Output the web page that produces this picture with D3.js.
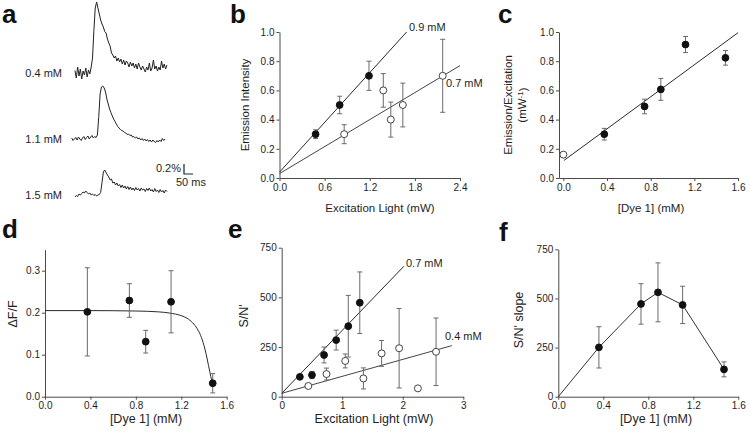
<!DOCTYPE html>
<html><head><meta charset="utf-8">
<script src="https://cdn.jsdelivr.net/npm/d3@7"></script>
<style>
html,body{margin:0;padding:0;background:#fff;}
svg{display:block;font-family:"Liberation Sans",Arial,sans-serif;}
</style></head>
<body><svg id="chart" width="750" height="435"></svg>
<script>
// ---------- DATA ----------
// panel a: fluorescence traces (% dF/F), sampled every traceDt ms
const traceLabels = ["0.4 mM", "1.1 mM", "1.5 mM"];
const traceDt = 7.5;
const traceStart = [18, 0, 18];
const trace04 = [0.05,-0.10,0.12,-0.06,0.08,-0.12,0.04,-0.04,0.10,-0.08,0.06,-0.02,0.12,
  0.30,0.85,1.30,1.42,1.30,1.18,1.06,0.98,0.92,0.83,0.80,0.68,0.60,0.54,0.40,0.36,0.30,0.34,
  0.24,0.30,0.22,0.28,0.18,0.26,0.16,0.24,0.20,0.12,0.22,0.14,0.20,0.10,0.18,0.08,0.20,0.12,
  0.06,0.14,0.08,0.02,0.12,0.06,0.20,0.04,0.10,0.26,0.08,0.14,0.04,0.12,0.06,0.24,0.10,0.18,0.08,0.16];
const trace11 = [0.02,-0.03,0.00,0.03,-0.02,0.04,0.00,-0.03,0.02,0.05,-0.01,0.03,0.06,0.00,0.04,0.07,0.02,0.05,0.03,
  0.08,0.45,0.90,1.04,1.06,1.02,0.94,0.80,0.70,0.60,0.53,0.46,0.40,0.35,0.30,0.25,0.22,0.19,0.17,0.16,
  0.13,0.12,0.09,0.10,0.07,0.08,0.04,0.05,0.02,0.04,0.00,0.02,-0.02,0.01,-0.03,0.00,-0.04,-0.01,-0.05,
  -0.02,-0.06,-0.02,-0.05,-0.07,-0.03,-0.06,-0.02,-0.05,0.01,-0.03,0.00];
const trace15 = [-0.04,-0.01,-0.03,0.02,0.00,0.03,0.06,0.04,0.08,0.05,0.02,0.04,0.00,0.02,-0.01,0.01,-0.02,0.00,0.01,
  0.05,0.25,0.46,0.50,0.45,0.40,0.36,0.30,0.32,0.24,0.26,0.20,0.24,0.18,0.21,0.15,0.20,0.14,0.18,0.12,
  0.17,0.11,0.16,0.10,0.14,0.09,0.15,0.10,0.13,0.08,0.14,0.10,0.12,0.07,0.13,0.09,0.14,0.08,0.11,0.06,
  0.13,0.07,0.10,0.05,0.11,0.06,0.09,0.04,0.10,0.07];
const scaleBarPct = 0.2, scaleBarMs = 50;

// panel b
const bFilledX = [0.48, 0.80, 1.19], bFilledY = [0.30, 0.50, 0.70], bFilledErr = [0.03, 0.06, 0.10];
const bOpenX = [0.86, 1.38, 1.48, 1.64, 2.17], bOpenY = [0.30, 0.60, 0.40, 0.50, 0.70];
const bOpenErr = [0.065, 0.115, 0.12, 0.15, 0.25];
const bFitHighX = [0, 1.69], bFitHighY = [0.04, 1.0];
const bFitLowX = [0, 2.4], bFitLowY = [0.03, 0.77];
const bLineLabels = ["0.9 mM", "0.7 mM"];
const bXTicks = [0, 0.6, 1.2, 1.8, 2.4], bYTicks = [0, 0.2, 0.4, 0.6, 0.8, 1.0];

// panel c
const cX = [0.375, 0.744, 0.893, 1.119, 1.485], cY = [0.30, 0.49, 0.607, 0.914, 0.823];
const cErr = [0.04, 0.05, 0.075, 0.055, 0.05];
const cOpenX = [0], cOpenY = [0.16];
const cFitX = [0.005, 1.6], cFitY = [0.12, 0.995];
const cXTicks = [0, 0.4, 0.8, 1.2, 1.6], cYTicks = [0, 0.2, 0.4, 0.6, 0.8, 1.0];

// panel d
const dX = [0.373, 0.743, 0.887, 1.11, 1.477], dY = [0.202, 0.229, 0.131, 0.226, 0.032];
const dErr = [0.105, 0.04, 0.027, 0.074, 0.023];
const dCurveX = [0, 0.4, 0.8, 1.0, 1.1, 1.2, 1.25, 1.3, 1.34, 1.37, 1.40, 1.42, 1.44, 1.46, 1.48];
const dCurveY = [0.205, 0.205, 0.204, 0.202, 0.199, 0.193, 0.187, 0.176, 0.162, 0.146, 0.122, 0.100, 0.074, 0.048, 0.025];
const dXTicks = [0, 0.4, 0.8, 1.2, 1.6], dYTicks = [0, 0.1, 0.2, 0.3];

// panel e
const eFilledX = [0.30, 0.50, 0.70, 0.90, 1.10, 1.29], eFilledY = [100, 109, 210, 285, 355, 473];
const eFilledErr = [8, 18, 40, 50, 155, 155];
const eOpenX = [0.44, 0.74, 1.05, 1.35, 1.65, 1.94, 2.25, 2.55];
const eOpenY = [54, 114, 180, 92, 218, 244, 42, 226];
const eOpenErr = [0, 30, 35, 53, 65, 200, 0, 170];
const eFitHighX = [0, 2.02], eFitHighY = [17, 657];
const eFitLowX = [0, 2.81], eFitLowY = [17, 257];
const eLineLabels = ["0.7 mM", "0.4 mM"];
const eXTicks = [0, 1, 2, 3], eYTicks = [0, 250, 500, 750];

// panel f
const fX = [0, 0.361, 0.735, 0.886, 1.105, 1.473], fY = [0, 251, 472, 531, 467, 139];
const fErr = [0, 105, 103, 150, 95, 38];
const fXTicks = [0, 0.4, 0.8, 1.2, 1.6], fYTicks = [0, 250, 500, 750];

// ---------- DRAW ----------
const svg = d3.select("#chart");
svg.append("rect").attr("width", 750).attr("height", 435).attr("fill", "#fff");

const INK = "#1e1e1e", AX = "#4a4a4a", ERR = "#6a6a6a";
const zip = (xs, ys) => xs.map((x, i) => [x, ys[i]]);

function axes(g, x, y, o) {
  const ax = g.append("g").attr("transform", `translate(0,${y.range()[0]})`)
    .call(d3.axisBottom(x).tickValues(o.xt).tickFormat(o.xf).tickSize(3).tickSizeOuter(0).tickPadding(2.5));
  const ay = g.append("g").attr("transform", `translate(${x.range()[0]},0)`)
    .call(d3.axisLeft(y).tickValues(o.yt).tickFormat(o.yf).tickSize(3).tickSizeOuter(0).tickPadding(2));
  [ax, ay].forEach(a => {
    a.selectAll("path,line").attr("stroke", AX).attr("stroke-width", 1);
    a.selectAll("text").attr("fill", INK).style("font-size", o.fs + "px");
  });
}
function fitLine(g, x, y, pts, color) {
  g.append("path").datum(pts).attr("fill", "none").attr("stroke", color || "#2a2a2a").attr("stroke-width", 1)
    .attr("d", d3.line().x(d => x(d[0])).y(d => y(d[1])));
}
function errBars(g, x, y, xs, ys, es) {
  xs.forEach((xv, i) => {
    if (!es[i]) return;
    const px = x(xv), y1 = y(ys[i] + es[i]), y2 = y(ys[i] - es[i]);
    g.append("line").attr("x1", px).attr("x2", px).attr("y1", y1).attr("y2", y2).attr("stroke", ERR).attr("stroke-width", 1);
    [y1, y2].forEach(yy => g.append("line").attr("x1", px - 2.5).attr("x2", px + 2.5).attr("y1", yy).attr("y2", yy)
      .attr("stroke", ERR).attr("stroke-width", 1));
  });
}
function markers(g, x, y, xs, ys, filled) {
  xs.forEach((xv, i) => {
    g.append("circle").attr("cx", x(xv)).attr("cy", y(ys[i])).attr("r", filled ? 3.4 : 3.5)
      .attr("fill", filled ? "#111" : "#fff").attr("stroke", filled ? "#111" : "#444").attr("stroke-width", 1);
  });
}
function ylabel(g, cx, cy, lines, fs) {
  const t = g.append("text").attr("transform", `translate(${cx},${cy}) rotate(-90)`)
    .attr("text-anchor", "middle").attr("fill", INK).style("font-size", fs + "px");
  lines.forEach((l, i) => {
    const ts = t.append("tspan").attr("x", 0).attr("dy", i === 0 ? (-(lines.length - 1) * 0.6 + 0.35) + "em" : "1.2em");
    if (Array.isArray(l)) {
      ts.text(l[0]);
      t.append("tspan").attr("dy", "-0.4em").style("font-size", (fs * 0.7) + "px").text(l[1]);
      t.append("tspan").attr("dy", "0.4em").text(l[2]);
    } else ts.text(l);
  });
}
function xlabel(g, cx, by, txt, fs) {
  g.append("text").attr("x", cx).attr("y", by).attr("text-anchor", "middle").attr("fill", INK)
    .style("font-size", fs + "px").text(txt);
}
function panelLetter(x, y, s) {
  svg.append("text").attr("x", x).attr("y", y).attr("fill", "#111").style("font-size", "26px")
    .style("font-weight", "bold").text(s);
}
const f1 = d3.format(".1f"), f0 = d3.format("d");

// ---- panel a ----
{
  const g = svg.append("g");
  const tx = d3.scaleLinear().domain([0, 520]).range([71.7, 71.7 + 520 * 0.1804]);
  const ty = d3.scaleLinear().domain([0, 1]).range([0, -50]);
  const base = [73, 139, 195];
  [trace04, trace11, trace15].forEach((tr, k) => {
    g.append("path").datum(tr).attr("fill", "none").attr("stroke", "#222").attr("stroke-width", 1)
      .attr("stroke-linejoin", "round")
      .attr("d", d3.line().x((d, i) => tx(traceStart[k] + i * traceDt)).y(d => base[k] + ty(d)));
    g.append("text").attr("x", 62).attr("y", base[k] + 4).attr("text-anchor", "end").attr("fill", INK)
      .style("font-size", "11px").text(traceLabels[k]);
  });
  // scale bar
  const sx = 184, sy = 174;
  const len = tx(scaleBarMs) - tx(0), hgt = -ty(scaleBarPct);
  g.append("path").attr("d", `M${sx},${sy - hgt}V${sy}H${sx + len}`).attr("fill", "none").attr("stroke", "#222").attr("stroke-width", 1.2);
  g.append("text").attr("x", sx - 3).attr("y", sy - 2).attr("text-anchor", "end").attr("fill", INK).style("font-size", "11px").text(scaleBarPct + "%");
  g.append("text").attr("x", 176).attr("y", 186).attr("fill", INK).style("font-size", "11px").text(scaleBarMs + " ms");
}

// ---- panel b ----
{
  const g = svg.append("g");
  const x = d3.scaleLinear().domain([0, 2.4]).range([279.5, 460]);
  const y = d3.scaleLinear().domain([0, 1]).range([178, 32]);
  axes(g, x, y, { xt: bXTicks, yt: bYTicks, xf: f1, yf: f1, fs: 10 });
  fitLine(g, x, y, zip(bFitHighX, bFitHighY));
  fitLine(g, x, y, zip(bFitLowX, bFitLowY), "#444");
  errBars(g, x, y, bFilledX, bFilledY, bFilledErr);
  errBars(g, x, y, bOpenX, bOpenY, bOpenErr);
  markers(g, x, y, bOpenX, bOpenY, false);
  markers(g, x, y, bFilledX, bFilledY, true);
  g.append("text").attr("x", 409).attr("y", 31).attr("fill", INK).style("font-size", "11px").text(bLineLabels[0]);
  g.append("text").attr("x", 446).attr("y", 87).attr("fill", INK).style("font-size", "11px").text(bLineLabels[1]);
  ylabel(g, 245, 105, ["Emission Intensity"], 11.5);
  xlabel(g, 380, 212, "Excitation Light (mW)", 11.5);
}

// ---- panel c ----
{
  const g = svg.append("g");
  const x = d3.scaleLinear().domain([-0.04, 1.6]).range([559, 738]);
  const y = d3.scaleLinear().domain([0, 1]).range([178, 32]);
  axes(g, x, y, { xt: cXTicks, yt: cYTicks, xf: f1, yf: f1, fs: 10 });
  fitLine(g, x, y, zip(cFitX, cFitY));
  errBars(g, x, y, cX, cY, cErr);
  markers(g, x, y, cOpenX, cOpenY, false);
  markers(g, x, y, cX, cY, true);
  ylabel(g, 515, 105, ["Emission/Excitation", ["(mW", "-1", ")"]], 11.5);
  xlabel(g, 651, 212, "[Dye 1] (mM)", 11.5);
}

// ---- panel d ----
{
  const g = svg.append("g");
  const x = d3.scaleLinear().domain([0, 1.6]).range([45, 226.7]);
  const y = d3.scaleLinear().domain([0, 0.35]).range([396.7, 249.7]);
  axes(g, x, y, { xt: dXTicks, yt: dYTicks, xf: f1, yf: f1, fs: 10 });
  g.append("path").datum(zip(dCurveX, dCurveY)).attr("fill", "none").attr("stroke", "#2a2a2a").attr("stroke-width", 1)
    .attr("d", d3.line().curve(d3.curveMonotoneX).x(d => x(d[0])).y(d => y(d[1])));
  errBars(g, x, y, dX, dY, dErr);
  markers(g, x, y, dX, dY, true);
  ylabel(g, 12.5, 314, ["\u0394F/F"], 12.5);
  xlabel(g, 146, 423, "[Dye 1] (mM)", 12.5);
}

// ---- panel e ----
{
  const g = svg.append("g");
  const x = d3.scaleLinear().domain([0, 3]).range([281.7, 463.3]);
  const y = d3.scaleLinear().domain([0, 750]).range([396.7, 247.7]);
  axes(g, x, y, { xt: eXTicks, yt: eYTicks, xf: f0, yf: f0, fs: 10 });
  fitLine(g, x, y, zip(eFitHighX, eFitHighY));
  fitLine(g, x, y, zip(eFitLowX, eFitLowY), "#444");
  errBars(g, x, y, eFilledX, eFilledY, eFilledErr);
  errBars(g, x, y, eOpenX, eOpenY, eOpenErr);
  markers(g, x, y, eOpenX, eOpenY, false);
  markers(g, x, y, eFilledX, eFilledY, true);
  g.append("text").attr("x", 406).attr("y", 267).attr("fill", INK).style("font-size", "11px").text(eLineLabels[0]);
  g.append("text").attr("x", 445).attr("y", 340).attr("fill", INK).style("font-size", "11px").text(eLineLabels[1]);
  ylabel(g, 244, 316, ["S/N'"], 12.5);
  xlabel(g, 374, 423, "Excitation Light (mW)", 12.5);
}

// ---- panel f ----
{
  const g = svg.append("g");
  const x = d3.scaleLinear().domain([0, 1.6]).range([558.3, 738.3]);
  const y = d3.scaleLinear().domain([0, 750]).range([396.7, 249.3]);
  axes(g, x, y, { xt: fXTicks, yt: fYTicks, xf: f1, yf: f0, fs: 10 });
  g.append("path").datum(zip(fX, fY)).attr("fill", "none").attr("stroke", "#333").attr("stroke-width", 1)
    .attr("d", d3.line().x(d => x(d[0])).y(d => y(d[1])));
  errBars(g, x, y, fX, fY, fErr);
  markers(g, x, y, fX.slice(1), fY.slice(1), true);
  ylabel(g, 519, 320, ["S/N' slope"], 12.5);
  xlabel(g, 656, 423, "[Dye 1] (mM)", 12.5);
}

panelLetter(2, 23, "a");
panelLetter(230, 23, "b");
panelLetter(498, 23, "c");
panelLetter(2, 238, "d");
panelLetter(228, 238, "e");
panelLetter(499, 241, "f");
</script></body></html>
